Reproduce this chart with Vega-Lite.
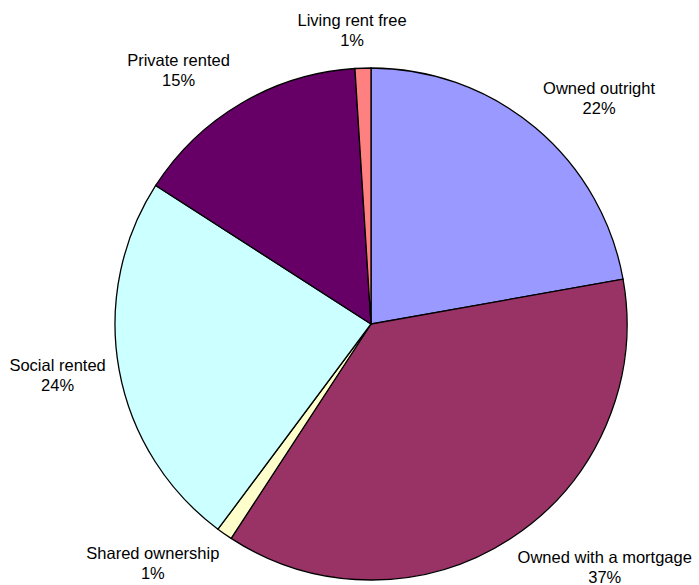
{
  "$schema": "https://vega.github.io/schema/vega-lite/v6.json",
  "width": 656,
  "height": 522,
  "autosize": {"type": "none"},
  "padding": {"left": 43, "top": 63, "right": 0, "bottom": 0},
  "background": "white",
  "view": {"stroke": null},
  "data": {
    "values": [
      {"idx": 1, "category": "Owned outright", "pct": "22%", "value": 22.2},
      {"idx": 2, "category": "Owned with a mortgage", "pct": "37%", "value": 37.0},
      {"idx": 3, "category": "Shared ownership", "pct": "1%", "value": 1.0},
      {"idx": 4, "category": "Social rented", "pct": "24%", "value": 23.9},
      {"idx": 5, "category": "Private rented", "pct": "15%", "value": 14.9},
      {"idx": 6, "category": "Living rent free", "pct": "1%", "value": 1.0}
    ]
  },
  "transform": [
    {"calculate": "[datum.category, datum.pct]", "as": "lines"}
  ],
  "encoding": {
    "theta": {"field": "value", "type": "quantitative", "stack": true},
    "order": {"field": "idx", "type": "quantitative"}
  },
  "layer": [
    {
      "mark": {"type": "arc", "outerRadius": 256, "stroke": "black", "strokeWidth": 1.3},
      "encoding": {
        "color": {
          "field": "category",
          "type": "nominal",
          "scale": {
            "domain": ["Owned outright", "Owned with a mortgage", "Shared ownership", "Social rented", "Private rented", "Living rent free"],
            "range": ["#9999FF", "#993366", "#FFFFCC", "#CCFFFF", "#660066", "#FF8080"]
          },
          "legend": null
        }
      }
    },
    {
      "mark": {
        "type": "text",
        "radius": 262,
        "font": "Liberation Sans",
        "fontSize": 16.5,
        "lineHeight": 20,
        "color": "black",
        "align": "center",
        "baseline": "middle",
        "dx": {"expr": "clamp(sin(((datum.value_start + datum.value_end) / 200) * 2 * PI) * 5, -1, 1) * (datum.category.length * 4.2 + 1)"},
        "dy": {"expr": "-cos(((datum.value_start + datum.value_end) / 200) * 2 * PI) * 31 - 10"}
      },
      "encoding": {
        "text": {"field": "lines", "type": "nominal"}
      }
    }
  ]
}
